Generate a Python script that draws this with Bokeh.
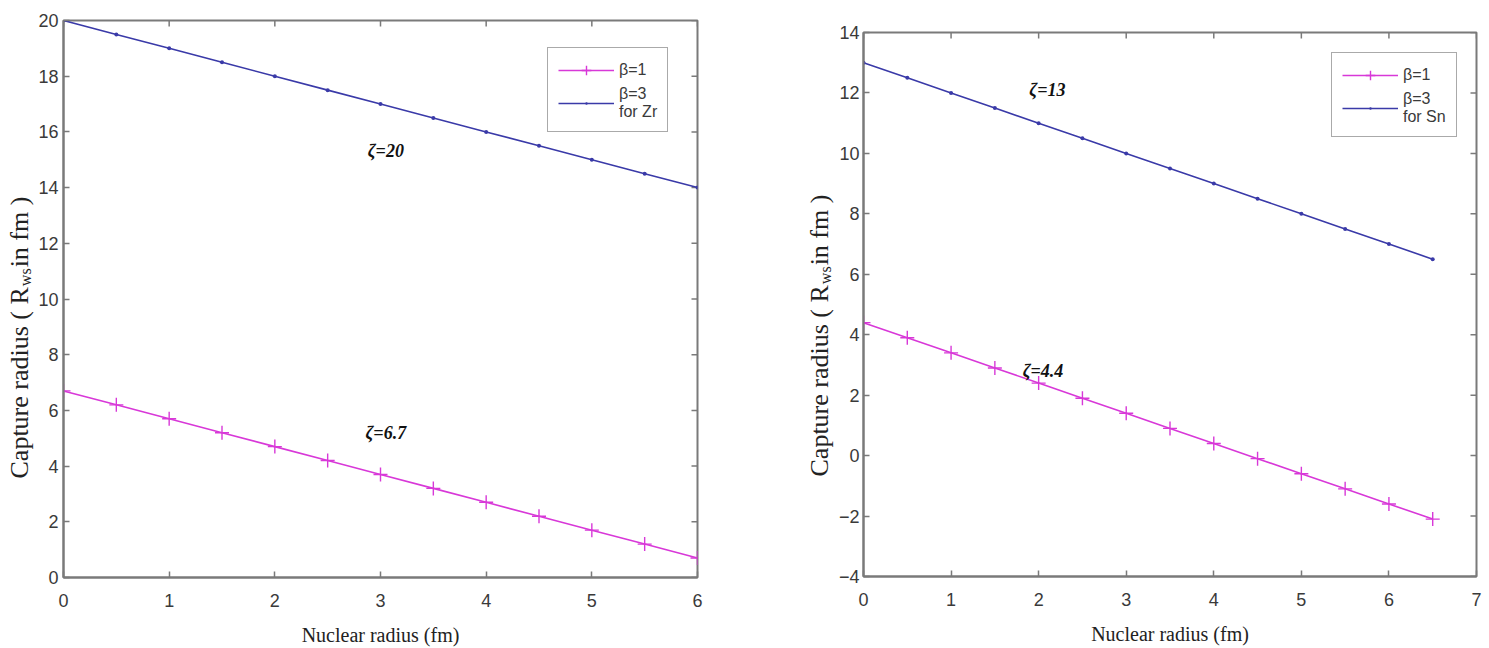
from bokeh.plotting import figure
from bokeh.layouts import row, column
from bokeh.models import Range1d, Label, Legend, LegendItem, FixedTicker
from bokeh.core.properties import value
from bokeh.embed import file_html
from bokeh.resources import INLINE
import math

# ---- data ----
x_zr = [0, 0.5, 1, 1.5, 2, 2.5, 3, 3.5, 4, 4.5, 5, 5.5, 6]
zr_beta1 = [6.7, 6.2, 5.7, 5.2, 4.7, 4.2, 3.7, 3.2, 2.7, 2.2, 1.7, 1.2, 0.7]
zr_beta3 = [20, 19.5, 19, 18.5, 18, 17.5, 17, 16.5, 16, 15.5, 15, 14.5, 14]

x_sn = [0, 0.5, 1, 1.5, 2, 2.5, 3, 3.5, 4, 4.5, 5, 5.5, 6, 6.5]
sn_beta1 = [4.4, 3.9, 3.4, 2.9, 2.4, 1.9, 1.4, 0.9, 0.4, -0.1, -0.6, -1.1, -1.6, -2.1]
sn_beta3 = [13, 12.5, 12, 11.5, 11, 10.5, 10, 9.5, 9, 8.5, 8, 7.5, 7, 6.5]

zr_xticks = [0, 1, 2, 3, 4, 5, 6]
zr_yticks = [0, 2, 4, 6, 8, 10, 12, 14, 16, 18, 20]
sn_xticks = [0, 1, 2, 3, 4, 5, 6, 7]
sn_yticks = [-4, -2, 0, 2, 4, 6, 8, 10, 12, 14]

MAG = "#d838d8"
BLU = "#3a3aa8"
AX = "#7a7a7a"
TXT = "#3a3a3a"
H = 648


def style_axis(ax, ticks, standoff):
    ax.ticker = FixedTicker(ticks=ticks)
    ax.axis_line_color = AX
    ax.axis_line_width = 2
    ax.major_tick_line_color = AX
    ax.major_tick_line_width = 1.5
    ax.major_tick_in = 6
    ax.major_tick_out = 0
    ax.minor_tick_line_color = None
    ax.major_label_text_font = "Liberation Sans"
    ax.major_label_text_font_size = "18px"
    ax.major_label_text_color = TXT
    ax.major_label_standoff = standoff


def ylabel_fig(w, cx, y_start):
    """Narrow strip holding the rotated y-axis title with subscript."""
    f = figure(width=w, height=H, x_range=Range1d(0, w), y_range=Range1d(0, H),
               output_backend="svg", toolbar_location=None, title=None,
               min_border=0, min_border_left=0, min_border_right=0,
               min_border_top=0, min_border_bottom=0)
    f.frame_width = w
    f.frame_height = H
    f.axis.visible = False
    f.grid.visible = False
    f.outline_line_color = None
    fs_main = 26
    fs_sub = 16
    main1 = "Capture radius ( R"
    sub = "ws"
    main2 = " in fm )"
    len1 = 7360 * fs_main / 1000.0
    len_sub = 1111 * fs_sub / 1000.0
    ys = [y_start, y_start + len1 + 1, y_start + len1 + len_sub + 2]
    xs = [cx, cx + 6, cx]
    texts = [main1, sub, main2]
    sizes = [f"{fs_main}px", f"{fs_sub}px", f"{fs_main}px"]
    f.text(x=xs, y=ys, text=texts, angle=math.pi / 2, text_font_size=sizes,
           text_font=value("Liberation Serif"), text_color="#222222",
           text_align="left", text_baseline="middle")
    return f


def make_panel(xs, b1, b3, xr, yr, xticks, yticks, elem, ann, frame_w, frame_h,
               bl, br, bt, bb, leg_loc, ystandoff):
    p = figure(width=bl + frame_w + br, height=bt + frame_h + bb,
               x_range=Range1d(*xr), y_range=Range1d(*yr),
               output_backend="svg", toolbar_location=None, title=None,
               min_border_left=bl, min_border_right=br,
               min_border_top=bt, min_border_bottom=bb,
               x_axis_label="Nuclear radius (fm)")
    p.frame_width = frame_w
    p.frame_height = frame_h
    p.xgrid.visible = False
    p.ygrid.visible = False
    p.outline_line_color = AX
    p.outline_line_width = 2
    p.background_fill_color = "white"
    p.border_fill_color = "white"

    style_axis(p.xaxis[0], xticks, 16)
    style_axis(p.yaxis[0], yticks, ystandoff)
    p.xaxis[0].axis_label_text_font = "Liberation Serif"
    p.xaxis[0].axis_label_text_font_style = "normal"
    p.xaxis[0].axis_label_text_font_size = "20px"
    p.xaxis[0].axis_label_text_color = "#222222"
    p.xaxis[0].axis_label_standoff = 14

    # inward ticks on the top and right edges (half of a dash, clipped by the frame)
    p.scatter(xticks, [yr[1]] * len(xticks), marker="dash", angle=math.pi / 2,
              size=12, line_color=AX, line_width=1.5)
    p.scatter([xr[1]] * len(yticks), yticks, marker="dash", angle=0,
              size=12, line_color=AX, line_width=1.5)

    r1 = p.line(xs, b1, line_color=MAG, line_width=1.6)
    m1 = p.scatter(xs, b1, marker="cross", size=14, line_color=MAG, line_width=1.4)
    r3 = p.line(xs, b3, line_color=BLU, line_width=1.6)
    m3 = p.scatter(xs, b3, marker="dot", size=16, line_color=BLU, fill_color=BLU)

    for (tx, ty, tt) in ann:
        p.add_layout(Label(x=tx, y=ty, text=tt, text_font="Liberation Serif",
                           text_font_style="bold italic", text_font_size="18px",
                           text_color="#111111", text_align="center",
                           text_baseline="middle"))

    legend = Legend(items=[LegendItem(label="β=1", renderers=[r1, m1]),
                           LegendItem(label="β=3\nfor " + elem, renderers=[r3, m3])],
                    location=leg_loc)
    legend.label_text_font = "Liberation Sans"
    legend.label_text_font_size = "16px"
    legend.label_text_color = TXT
    legend.glyph_width = 56
    legend.glyph_height = 24
    legend.label_standoff = 5
    legend.spacing = 3
    legend.padding = 10
    legend.margin = 0
    legend.border_line_color = "#555555"
    legend.border_line_width = 1.5
    legend.background_fill_alpha = 1.0
    p.add_layout(legend)
    return p


lab1 = ylabel_fig(35, 19, H - 478)
p1 = make_panel(x_zr, zr_beta1, zr_beta3, (0, 6), (0, 20), zr_xticks, zr_yticks, "Zr",
                [(3.05, 15.3, "ζ=20"), (3.05, 5.2, "ζ=6.7")],
                634, 557, 28, 63, 20, 71, (484, 445), 5)
lab2 = ylabel_fig(75, 59, H - 476)
p2 = make_panel(x_sn, sn_beta1, sn_beta3, (0, 7), (-4, 14), sn_xticks, sn_yticks, "Sn",
                [(2.1, 12.1, "ζ=13"), (2.05, 2.8, "ζ=4.4")],
                613, 544, 27, 14, 32, 72, (468, 439), 4)

layout = row(column(lab1), column(p1), column(lab2), column(p2), spacing=0)
open("out.html", "w").write(file_html(layout, INLINE))
